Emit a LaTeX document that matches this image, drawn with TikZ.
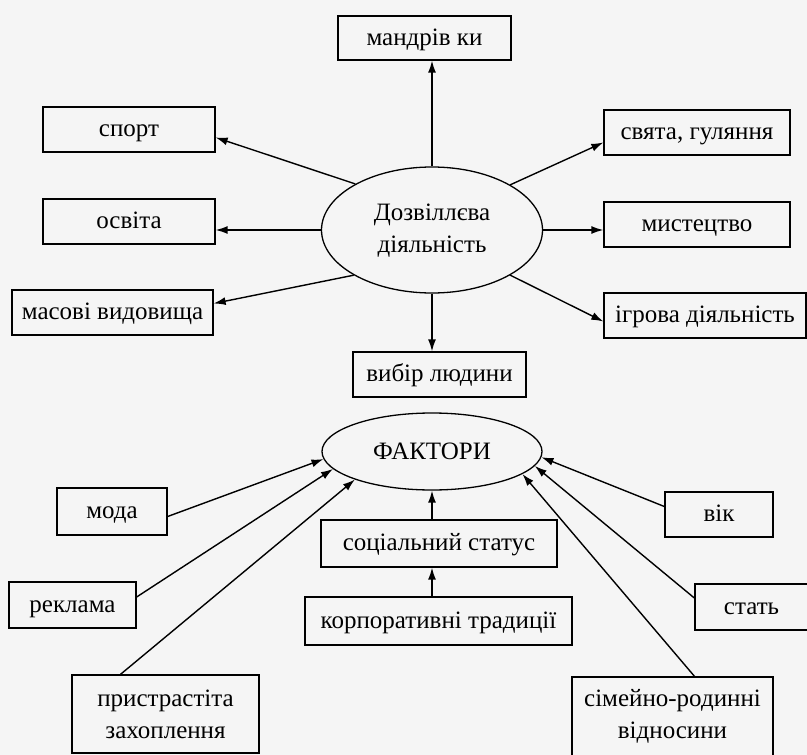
\documentclass[tikz,border=0pt]{standalone}
\usepackage{fontspec}
\setmainfont{Liberation Serif}
\usepackage{tikz}
\usetikzlibrary{positioning,calc,arrows.meta,shapes}

\begin{document}
\begin{tikzpicture}[x=1pt,y=-1pt,font=\fontsize{25}{32}\selectfont,
    bigbox/.style={draw,rectangle,line width=1.3pt,inner sep=2pt,align=center},
    box/.style={bigbox,minimum height=45pt,text height=19pt,text depth=4.5pt},
    oval/.style={draw,ellipse,line width=1.3pt,inner sep=0pt,align=center},
    conn/.style={line width=1.4pt,-{Latex[length=12pt,width=8pt]}}]
        \fill[gray!8] (0,0) rectangle (807,755);
        \useasboundingbox (0,0) rectangle (807,755);
        % centre
        \node[oval,minimum width=221pt,minimum height=126pt] (dozv) at (432,230)
            {\raisebox{-5pt}{\begin{tabular}{@{}c@{}}Дозвіллєва\\діяльність\end{tabular}}};
        \node[oval,minimum width=220pt,minimum height=77pt] (fakt) at (432,451.5) {ФАКТОРИ};
        % top part
        \node[box,minimum width=173pt,minimum height=44pt] (mandr) at (424.5,38) {мандрів ки};
        \node[box,minimum width=172pt] (sport) at (129,129.5) {спорт};
        \node[box,minimum width=172pt] (osvita) at (129,221.5) {освіта};
        \node[box,minimum width=201pt] (masovi) at (112.5,312.5) {масові видовища};
        \node[box,minimum width=186pt] (svyata) at (697,132.5) {свята, гуляння};
        \node[box,minimum width=186pt] (myst) at (697,224.5) {мистецтво};
        \node[box,minimum width=202pt] (igrova) at (705,315.5) {ігрова діяльність};
        \node[box,minimum width=173pt] (vybir) at (439.5,374.5) {вибір людини};
        % bottom part
        \node[box,minimum width=110pt,minimum height=47pt] (moda) at (112,511.5) {мода};
        \node[box,minimum width=127pt,minimum height=46pt] (reklama) at (72.5,605) {реклама};
        \node[bigbox,minimum width=187pt,minimum height=78pt] (pristr) at (165.5,714) {пристрастіта\\захоплення};
        \node[box,minimum width=236pt,minimum height=47pt] (social) at (439,543.5) {соціальний статус};
        \node[box,minimum width=267pt,minimum height=48pt] (corp) at (438.5,621) {корпоративні традиції};
        \node[box,minimum width=108pt] (vik) at (719,514.5) {вік};
        \node[box,minimum width=113pt,minimum height=46pt] (stat) at (751.5,607) {стать};
        \node[bigbox,minimum width=201pt,minimum height=79pt] (simei) at (672.5,716.5) {сімейно-родинні\\відносини};
        % arrows out of dozv
        \draw[conn] (dozv.north) -- (dozv.north |- mandr.south);
        \draw[conn] (dozv.149) -- ([yshift=-8pt]sport.east);
        \draw[conn] (dozv.west) -- (osvita.east |- dozv.west);
        \draw[conn] (dozv.210) -- ([yshift=9pt]masovi.east);
        \draw[conn] (dozv.30) -- ([yshift=-10pt]svyata.west);
        \draw[conn] (dozv.east) -- (myst.west |- dozv.east);
        \draw[conn] (dozv.-30) -- ([yshift=-6pt]igrova.west);
        \draw[conn] (dozv.south) -- (dozv.south |- vybir.north);
        % arrows into fakt
        \draw[conn] ([yshift=-5pt]moda.east) -- (fakt.184);
        \draw[conn] ([yshift=8pt]reklama.east) -- (fakt.190.6);
        \draw[conn] ([xshift=-45pt]pristr.north) -- (fakt.200.8);
        \draw[conn] (social.north -| fakt.south) -- (fakt.south);
        \draw[conn] (corp.north -| fakt.south) -- (social.south -| fakt.south);
        \draw[conn] ([yshift=8pt]vik.west) -- (fakt.-3);
        \draw[conn] ([yshift=9pt]stat.west) -- (fakt.-8.3);
        \draw[conn] ([xshift=22pt]simei.north) -- (fakt.-14.6);
\end{tikzpicture}
\end{document}
